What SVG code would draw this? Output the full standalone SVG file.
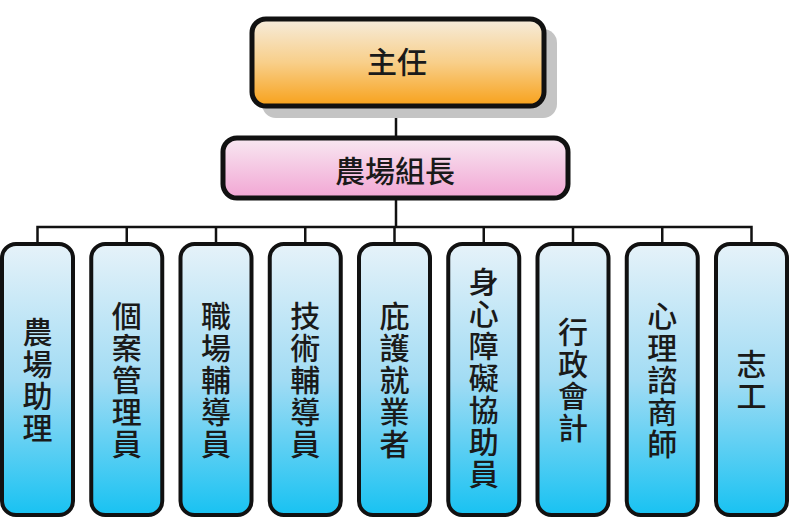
<svg xmlns="http://www.w3.org/2000/svg" width="800" height="518" viewBox="0 0 800 518">
<defs>
<linearGradient id="gOrange" x1="0" y1="0" x2="0" y2="1">
<stop offset="0" stop-color="#f6ecdc"/><stop offset="0.5" stop-color="#f8cf8a"/><stop offset="1" stop-color="#f8a11a"/>
</linearGradient>
<linearGradient id="gPink" x1="0" y1="0" x2="0" y2="1">
<stop offset="0" stop-color="#f8e8f2"/><stop offset="1" stop-color="#f2a6d4"/>
</linearGradient>
<linearGradient id="gBlue" x1="0" y1="0" x2="0" y2="1">
<stop offset="0" stop-color="#e6f2f9"/><stop offset="0.5" stop-color="#a2dcf4"/><stop offset="1" stop-color="#18c2f2"/>
</linearGradient>
</defs>
<style>
.box{stroke:#111;stroke-width:4}
.big{stroke-width:5}
.shadow{fill:#c4c4c4}
.lbl{font-family:"Noto Sans CJK TC","Noto Sans CJK SC",sans-serif;font-size:30px;font-weight:500;fill:#1a1a1a;text-anchor:middle}
.conn{stroke:#111;stroke-width:2.5;fill:none}
</style>
<rect width="800" height="518" fill="#ffffff"/>
<g id="connectors">
<line class="conn" x1="396" y1="106" x2="396" y2="139"/>
<line class="conn" x1="396" y1="198" x2="396" y2="227"/>
<polyline class="conn" points="37.5,244 37.5,227 751.5,227 751.5,244"/>
<line class="conn" x1="126.75" y1="227" x2="126.75" y2="244"/>
<line class="conn" x1="216" y1="227" x2="216" y2="244"/>
<line class="conn" x1="305.25" y1="227" x2="305.25" y2="244"/>
<line class="conn" x1="394.5" y1="227" x2="394.5" y2="244"/>
<line class="conn" x1="483.75" y1="227" x2="483.75" y2="244"/>
<line class="conn" x1="573" y1="227" x2="573" y2="244"/>
<line class="conn" x1="662.25" y1="227" x2="662.25" y2="244"/>
</g>
<g id="director">
<rect class="shadow" x="262" y="29" width="295" height="89" rx="14"/>
<rect class="box big" x="252" y="19" width="292" height="87" rx="14" fill="url(#gOrange)"/>
<text class="lbl" x="397" y="73">主任</text>
</g>
<g id="farm-leader">
<rect class="box big" x="223" y="138" width="345" height="60" rx="14" fill="url(#gPink)"/>
<text class="lbl" x="395" y="182">農場組長</text>
</g>
<g id="n1"><rect class="box" x="2" y="244" width="71" height="271" rx="14" fill="url(#gBlue)"/>
<text class="lbl" x="37.5" y="343">農<tspan x="37.5" dy="32">場</tspan><tspan x="37.5" dy="32">助</tspan><tspan x="37.5" dy="32">理</tspan></text></g>
<g id="n2"><rect class="box" x="91.25" y="244" width="71" height="271" rx="14" fill="url(#gBlue)"/>
<text class="lbl" x="126.75" y="327">個<tspan x="126.75" dy="32">案</tspan><tspan x="126.75" dy="32">管</tspan><tspan x="126.75" dy="32">理</tspan><tspan x="126.75" dy="32">員</tspan></text></g>
<g id="n3"><rect class="box" x="180.5" y="244" width="71" height="271" rx="14" fill="url(#gBlue)"/>
<text class="lbl" x="216" y="327">職<tspan x="216" dy="32">場</tspan><tspan x="216" dy="32">輔</tspan><tspan x="216" dy="32">導</tspan><tspan x="216" dy="32">員</tspan></text></g>
<g id="n4"><rect class="box" x="269.75" y="244" width="71" height="271" rx="14" fill="url(#gBlue)"/>
<text class="lbl" x="305.25" y="327">技<tspan x="305.25" dy="32">術</tspan><tspan x="305.25" dy="32">輔</tspan><tspan x="305.25" dy="32">導</tspan><tspan x="305.25" dy="32">員</tspan></text></g>
<g id="n5"><rect class="box" x="359" y="244" width="71" height="271" rx="14" fill="url(#gBlue)"/>
<text class="lbl" x="394.5" y="327">庇<tspan x="394.5" dy="32">護</tspan><tspan x="394.5" dy="32">就</tspan><tspan x="394.5" dy="32">業</tspan><tspan x="394.5" dy="32">者</tspan></text></g>
<g id="n6"><rect class="box" x="448.25" y="244" width="71" height="271" rx="14" fill="url(#gBlue)"/>
<text class="lbl" x="483.75" y="293">身<tspan x="483.75" dy="32">心</tspan><tspan x="483.75" dy="32">障</tspan><tspan x="483.75" dy="32">礙</tspan><tspan x="483.75" dy="32">協</tspan><tspan x="483.75" dy="32">助</tspan><tspan x="483.75" dy="32">員</tspan></text></g>
<g id="n7"><rect class="box" x="537.5" y="244" width="71" height="271" rx="14" fill="url(#gBlue)"/>
<text class="lbl" x="573" y="343">行<tspan x="573" dy="32">政</tspan><tspan x="573" dy="32">會</tspan><tspan x="573" dy="32">計</tspan></text></g>
<g id="n8"><rect class="box" x="626.75" y="244" width="71" height="271" rx="14" fill="url(#gBlue)"/>
<text class="lbl" x="662.25" y="327">心<tspan x="662.25" dy="32">理</tspan><tspan x="662.25" dy="32">諮</tspan><tspan x="662.25" dy="32">商</tspan><tspan x="662.25" dy="32">師</tspan></text></g>
<g id="n9"><rect class="box" x="716" y="244" width="71" height="271" rx="14" fill="url(#gBlue)"/>
<text class="lbl" x="751.5" y="375">志<tspan x="751.5" dy="32">工</tspan></text></g>
</svg>
